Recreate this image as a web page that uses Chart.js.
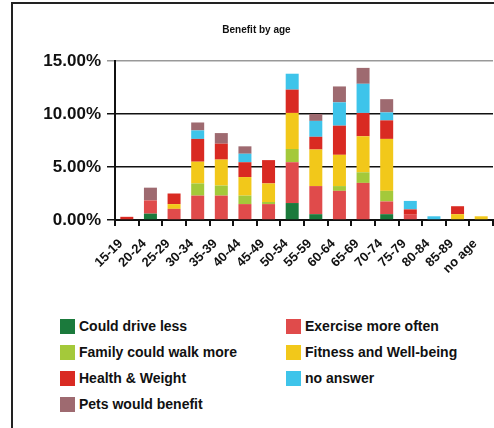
<!DOCTYPE html>
<html>
<head>
<meta charset="utf-8">
<script src="https://cdn.jsdelivr.net/npm/chart.js"></script>
<style>
  html, body { margin: 0; padding: 0; background: #fff; overflow: hidden; }
  #wrap { position: relative; width: 494px; height: 428px; overflow: hidden; }
  #frame { position: absolute; left: 11px; top: 2px; width: 600px; height: 600px; border: 2px solid #222; box-sizing: border-box; }
  #cv { position: absolute; left: 0; top: 0; }
  #legend { position: absolute; left: 0; top: 0; font: bold 14px "Liberation Sans", Arial, sans-serif; color: #111; }
  .item { position: absolute; display: flex; align-items: center; white-space: nowrap; }
  .box { width: 15px; height: 15px; margin-right: 4px; }
</style>
</head>
<body>
<div id="wrap">
  <div id="frame"></div>
  <canvas id="cv" width="514" height="300"></canvas>
  <div id="legend"></div>
</div>
<script>
var title = "Benefit by age";
var categories = ["15-19", "20-24", "25-29", "30-34", "35-39", "40-44", "45-49", "50-54",
                  "55-59", "60-64", "65-69", "70-74", "75-79", "80-84", "85-89", "no age"];

var couldDriveLess  = [0, 0.6, 0, 0, 0, 0, 0, 1.6, 0.55, 0, 0, 0.55, 0, 0, 0, 0];
var exerciseMore    = [0, 1.25, 1.05, 2.3, 2.3, 1.5, 1.5, 3.85, 2.65, 2.75, 3.5, 1.2, 0.5, 0, 0, 0];
var familyWalk      = [0, 0, 0, 1.15, 0.95, 0.8, 0.2, 1.25, 0, 0.45, 1.0, 1.0, 0, 0, 0, 0];
var fitnessWell     = [0, 0, 0.45, 2.05, 2.45, 1.75, 1.75, 3.4, 3.45, 2.95, 3.4, 4.9, 0, 0, 0.55, 0.35];
var healthWeight    = [0.3, 0, 1.0, 2.15, 1.5, 1.4, 2.2, 2.2, 1.2, 2.75, 2.2, 1.75, 0.5, 0, 0.75, 0];
var noAnswer        = [0, 0, 0, 0.8, 0, 0.8, 0, 1.5, 1.5, 2.2, 2.75, 0.75, 0.8, 0.35, 0, 0];
var petsBenefit     = [0, 1.2, 0, 0.75, 1.0, 0.7, 0, 0, 0.65, 1.5, 1.5, 1.25, 0, 0, 0, 0];

var series = [
    ["Could drive less", couldDriveLess, "#1b7a3c"],
    ["Exercise more often", exerciseMore, "#e04b4b"],
    ["Family could walk more", familyWalk, "#a4c93a"],
    ["Fitness and Well-being", fitnessWell, "#f2c81a"],
    ["Health & Weight", healthWeight, "#d92a22"],
    ["no answer", noAnswer, "#3ec4ea"],
    ["Pets would benefit", petsBenefit, "#9e6a70"]
];

var font = "'Liberation Sans', Arial, sans-serif";

var datasets = [];
series.forEach(s => {
    datasets.push({
        label: s[0],
        data: s[1],
        backgroundColor: s[2],
        borderWidth: 0,
        barPercentage: 0.55,
        categoryPercentage: 1
    });
});

new Chart("cv", {
    type: "bar",
    data: { labels: categories, datasets: datasets },
    options: {
        responsive: false,
        animation: false,
        layout: { padding: { left: 20, right: 21, top: 0, bottom: 0 } },
        plugins: {
            legend: { display: false },
            tooltip: { enabled: false },
            title: {
                display: true,
                text: title,
                color: "#111",
                font: { family: font, size: 10, weight: "bold" },
                padding: { top: 24, bottom: 25 }
            }
        },
        scales: {
            x: {
                stacked: true,
                afterFit: s => { s.height = 80; },
                border: { display: true, color: "#111", width: 2 },
                grid: { offset: true, drawOnChartArea: false, drawTicks: true, tickLength: 6, color: "#111", lineWidth: 2 },
                ticks: {
                    color: "#111",
                    minRotation: 45,
                    maxRotation: 45,
                    autoSkip: false,
                    padding: 10,
                    labelOffset: -6,
                    font: { family: font, size: 13, weight: "bold" }
                }
            },
            y: {
                stacked: true,
                min: 0,
                max: 15,
                afterFit: s => { s.width = 95; },
                border: { display: true, color: "#111", width: 2 },
                grid: {
                    drawTicks: true,
                    tickLength: 8,
                    lineWidth: 1.5,
                    color: c => c.tick && c.tick.value == 15 ? "#999" : "#111"
                },
                ticks: {
                    stepSize: 5,
                    color: "#111",
                    padding: 6,
                    font: { family: font, size: 17, weight: "bold" },
                    callback: v => v.toFixed(2) + "%"
                }
            }
        }
    }
});

// legend in two columns, row by row
var legend = document.getElementById("legend");
series.forEach((s, i) => {
    var col = i % 2, row = Math.floor(i / 2);
    var el = document.createElement("div");
    el.className = "item";
    el.style.left = (col == 0 ? 60 : 286) + "px";
    el.style.top = (318 + row * 26) + "px";
    el.innerHTML = '<span class="box" style="background:' + s[2] + '"></span><span></span>';
    el.lastChild.textContent = s[0];
    legend.appendChild(el);
});
</script>
</body>
</html>
